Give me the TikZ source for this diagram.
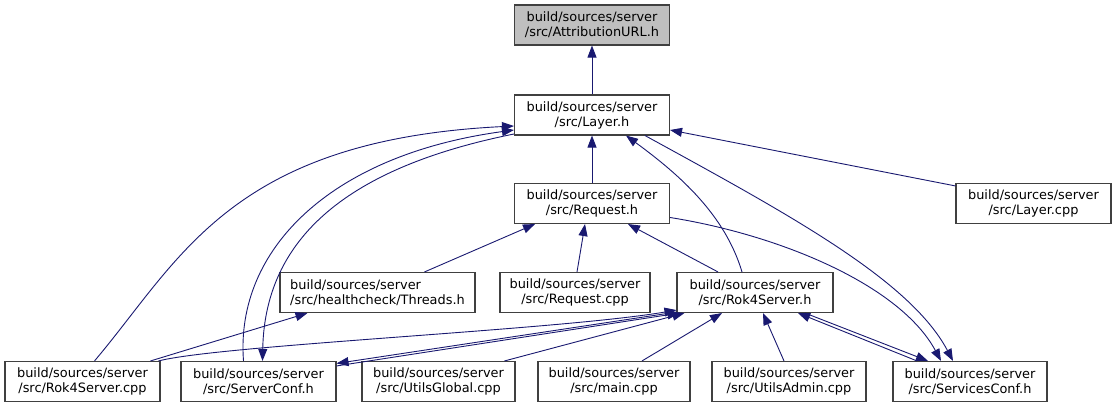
\documentclass[tikz,border=0pt]{standalone}
\usepackage{fontspec}
\setmainfont{DejaVu Sans}
\usetikzlibrary{arrows.meta}
\definecolor{edgeblue}{RGB}{25,25,112}
\definecolor{boxgray}{RGB}{64,64,64}
\definecolor{rootgray}{RGB}{191,191,191}

\begin{document}
\begin{tikzpicture}[
    x=1pt, y=-1pt,
    font=\fontsize{12.9}{15}\selectfont,
    file/.style={draw=boxgray, line width=1.1pt, fill=white, align=center,
      minimum width=155pt, minimum height=40pt, inner sep=2pt},
    root/.style={file, fill=rootgray},
    dep/.style={draw=edgeblue, line width=0.9pt, -{Triangle[length=12pt,width=9pt]}}
  ]
  \useasboundingbox (0,0) rectangle (1116,409);

  \node[root] (attr) at (592,25) {build/sources/server\\/src/AttributionURL.h};
  \node[file] (layer) at (592,115) {build/sources/server\\/src/Layer.h};
  \node[file] (request) at (592,203.5) {build/sources/server\\/src/Request.h};
  \node[file] (layercpp) at (1033.5,203.5) {build/sources/server\\/src/Layer.cpp};
  \node[file, minimum width=195pt, align=left] (threads) at (377.5,292.5)
    {build/sources/server\\/src/healthcheck/Threads.h};
  \node[file, minimum width=150pt] (requestcpp) at (575,292.5) {build/sources/server\\/src/Request.cpp};
  \node[file, minimum width=156pt] (rok4h) at (755,292.5) {build/sources/server\\/src/Rok4Server.h};
  \node[file] (rok4cpp) at (82.5,381.5) {build/sources/server\\/src/Rok4Server.cpp};
  \node[file] (serverconf) at (258.5,381.5) {build/sources/server\\/src/ServerConf.h};
  \node[file, minimum width=153pt] (utilsglobal) at (438.5,381.5) {build/sources/server\\/src/UtilsGlobal.cpp};
  \node[file, minimum width=152pt] (maincpp) at (614,381.5) {build/sources/server\\/src/main.cpp};
  \node[file, minimum width=154pt] (utilsadmin) at (789,381.5) {build/sources/server\\/src/UtilsAdmin.cpp};
  \node[file, minimum width=154pt] (servicesconf) at (970,381.5) {build/sources/server\\/src/ServicesConf.h};

  \draw[dep] (layer.north) -- (attr.south);
  \draw[dep] (request.north) -- (layer.south);
  \draw[dep] ([yshift=-3pt]layercpp.north west) -- ([yshift=-15pt]layer.east);
  \draw[dep] ([xshift=-13pt]rok4h.north) .. controls (725,215) and (680,175) .. ([xshift=34pt]layer.south);
  \draw[dep] ([xshift=53pt]layer.south) .. controls (790,215) and (910,280) .. ([xshift=-17pt]servicesconf.north);
  \draw[dep] ([xshift=12pt]rok4cpp.north) .. controls (180,260) and (230,140) .. ([yshift=-11pt]layer.west);
  \draw[dep] ([xshift=-15pt]serverconf.north) .. controls (235,250) and (330,155) .. ([yshift=-15pt]layer.west);
  \draw[dep] ([yshift=-19pt]layer.west) .. controls (360,165) and (265,230) .. ([xshift=4pt]serverconf.north);
  \draw[dep] ([yshift=-14pt]request.east) .. controls (780,235) and (900,285) .. ([xshift=-29pt]servicesconf.north);
  \draw[dep] ([xshift=47pt]threads.north) -- ([xshift=-57pt]request.south);
  \draw[dep] ([xshift=2pt]requestcpp.north) -- ([xshift=-7pt]request.south);
  \draw[dep] ([xshift=-37pt]rok4h.north) -- ([xshift=36pt]request.south);
  \draw[dep] ([xshift=68pt]rok4cpp.north) -- ([xshift=-70pt]threads.south);
  \draw[dep] ([xshift=76pt]rok4cpp.north) .. controls (220,345) and (560,330) .. ([yshift=3pt]rok4h.south west);
  \draw[dep] ([yshift=1pt]rok4h.south west) -- ([yshift=-2.5pt]serverconf.north east);
  \draw[dep] ([yshift=-5pt]serverconf.north east) -- ([xshift=3pt]rok4h.south west);
  \draw[dep] ([xshift=66pt]utilsglobal.north) -- ([xshift=8pt]rok4h.south west);
  \draw[dep] ([xshift=28pt]maincpp.north) -- ([xshift=-33pt]rok4h.south);
  \draw[dep] ([xshift=-5pt]utilsadmin.north) -- ([xshift=8pt]rok4h.south);
  \draw[dep] ([xshift=-53pt]servicesconf.north) -- ([xshift=43pt]rok4h.south);
  \draw[dep] ([xshift=50pt]rok4h.south) -- ([xshift=-42pt]servicesconf.north);
\end{tikzpicture}
\end{document}
